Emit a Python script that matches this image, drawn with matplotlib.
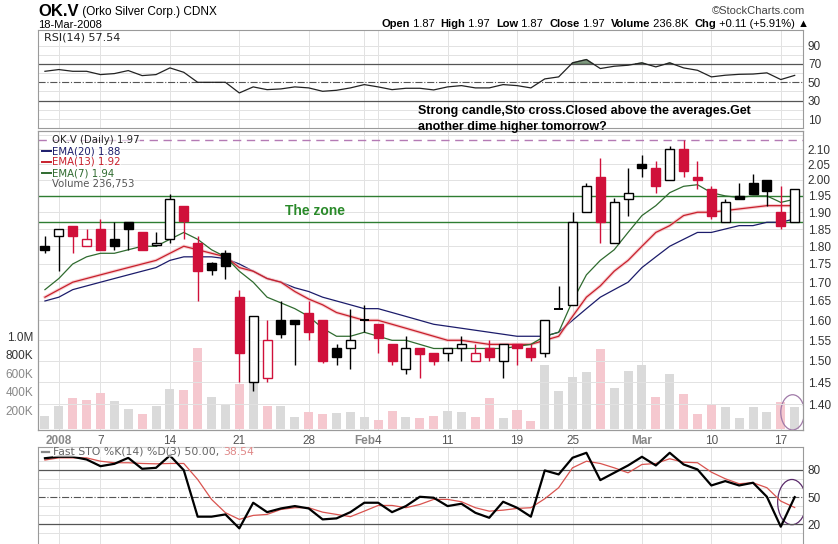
import matplotlib
matplotlib.use("Agg")
import matplotlib.pyplot as plt
from matplotlib.patches import Ellipse
from matplotlib.ticker import NullLocator, NullFormatter, FixedLocator

# ---- data (OK.V daily, 31-Dec-2007 .. 18-Mar-2008) ----
opens = [1.80, 1.83, 1.86, 1.80, 1.85, 1.82, 1.87, 1.84, 1.805, 1.82, 1.92, 1.81, 1.752, 1.78,
         1.66, 1.45, 1.46, 1.60, 1.60, 1.62, 1.60, 1.53, 1.53, 1.60, 1.59, 1.54, 1.48, 1.53,
         1.52, 1.52, 1.53, 1.50, 1.53, 1.50, 1.54, 1.53, 1.52, 1.63, 1.64, 1.90, 2.01, 1.81,
         1.94, 2.05, 2.04, 2.00, 2.10, 2.01, 1.97, 1.87, 1.95, 1.99, 2.00, 1.90, 1.87]
highs = [1.83, 1.85, 1.86, 1.85, 1.88, 1.87, 1.87, 1.84, 1.84, 1.955, 1.92, 1.83, 1.755, 1.79,
         1.68, 1.61, 1.60, 1.65, 1.60, 1.65, 1.60, 1.54, 1.63, 1.64, 1.59, 1.54, 1.56, 1.53,
         1.52, 1.53, 1.56, 1.54, 1.55, 1.54, 1.54, 1.54, 1.60, 1.69, 1.90, 1.99, 2.07, 1.945,
         2.04, 2.08, 2.06, 2.11, 2.13, 2.06, 1.98, 1.94, 1.99, 2.02, 2.00, 1.98, 1.97]
lows = [1.78, 1.73, 1.78, 1.80, 1.79, 1.79, 1.79, 1.79, 1.80, 1.81, 1.82, 1.65, 1.72, 1.71,
        1.45, 1.43, 1.45, 1.555, 1.49, 1.55, 1.495, 1.49, 1.48, 1.57, 1.52, 1.49, 1.47, 1.46,
        1.49, 1.50, 1.50, 1.50, 1.50, 1.46, 1.49, 1.50, 1.51, 1.63, 1.64, 1.90, 1.81, 1.81,
        1.89, 2.01, 1.96, 2.00, 2.01, 1.97, 1.88, 1.87, 1.94, 1.955, 1.92, 1.85, 1.87]
closes = [1.79, 1.85, 1.83, 1.82, 1.79, 1.80, 1.85, 1.79, 1.81, 1.94, 1.875, 1.73, 1.733, 1.745,
          1.52, 1.61, 1.55, 1.565, 1.59, 1.57, 1.50, 1.51, 1.55, 1.60, 1.555, 1.50, 1.53, 1.517,
          1.50, 1.53, 1.54, 1.52, 1.51, 1.54, 1.53, 1.51, 1.60, 1.63, 1.87, 1.98, 1.87, 1.93,
          1.96, 2.04, 1.98, 2.10, 2.03, 2.00, 1.89, 1.93, 1.94, 1.955, 1.965, 1.86, 1.97]
volume_k = [140, 249, 332, 313, 386, 303, 216, 159, 249, 429, 421, 872, 343, 259, 486, 764,
            249, 250, 133, 180, 162, 169, 180, 126, 97, 195, 126, 115, 140, 195, 180, 133,
            332, 115, 205, 86, 692, 411, 559, 616, 862, 440, 627, 692, 349, 591, 375, 159,
            267, 235, 115, 235, 180, 289, 237]
ema20 = [1.65, 1.66, 1.68, 1.69, 1.70, 1.71, 1.72, 1.73, 1.74, 1.76, 1.77, 1.77, 1.77, 1.765,
         1.75, 1.73, 1.71, 1.70, 1.685, 1.675, 1.66, 1.65, 1.64, 1.63, 1.63, 1.62, 1.61, 1.60,
         1.59, 1.585, 1.58, 1.575, 1.57, 1.565, 1.56, 1.56, 1.56, 1.57, 1.60, 1.63, 1.66, 1.68,
         1.70, 1.74, 1.77, 1.80, 1.82, 1.84, 1.84, 1.85, 1.86, 1.86, 1.87, 1.87, 1.88]
ema13 = [1.66, 1.68, 1.70, 1.71, 1.72, 1.73, 1.74, 1.75, 1.76, 1.78, 1.80, 1.79, 1.78, 1.77,
         1.74, 1.73, 1.71, 1.70, 1.675, 1.655, 1.64, 1.62, 1.61, 1.60, 1.60, 1.59, 1.58, 1.57,
         1.56, 1.55, 1.55, 1.545, 1.54, 1.54, 1.54, 1.54, 1.55, 1.56, 1.61, 1.66, 1.69, 1.73,
         1.76, 1.80, 1.84, 1.86, 1.89, 1.90, 1.90, 1.905, 1.91, 1.915, 1.92, 1.92, 1.92]
ema7 = [1.68, 1.71, 1.75, 1.77, 1.78, 1.78, 1.79, 1.80, 1.80, 1.82, 1.84, 1.82, 1.79, 1.77,
        1.73, 1.70, 1.66, 1.645, 1.63, 1.61, 1.58, 1.56, 1.56, 1.57, 1.56, 1.55, 1.55, 1.54,
        1.53, 1.53, 1.53, 1.53, 1.53, 1.53, 1.535, 1.54, 1.56, 1.57, 1.65, 1.72, 1.76, 1.79,
        1.84, 1.89, 1.92, 1.96, 1.98, 1.985, 1.96, 1.95, 1.945, 1.95, 1.95, 1.93, 1.94]
rsi = [62, 63.9, 62, 62, 58.4, 59.5, 62.8, 57.3, 58.4, 65.7, 60.9, 50, 50, 50, 38.4, 45, 42,
       42.8, 45, 43.9, 40.2, 41.3, 43.9, 47.5, 45, 42, 43.5, 43.5, 41.7, 45, 46.4, 43.9, 43.9,
       47.5, 46.4, 43.9, 53.7, 55.9, 71.2, 74.8, 65, 67.5, 68.6, 71.2, 66.8, 71.2, 65.7, 63.1,
       55.9, 57.7, 58.7, 59, 60.3, 53, 57.54]
sto_k = [93, 94.6, 94.6, 91.6, 84.2, 86.8, 93.4, 81.3, 82.4, 96, 79.8, 28.4, 28.4, 30.9, 15.5,
         43.8, 33.4, 37.5, 40.1, 37.5, 25.4, 26.5, 33.4, 43.8, 43.8, 33.4, 40.1, 50.4, 49.3,
         40.1, 42.7, 32.7, 27.2, 44.9, 38.3, 28.4, 79.5, 75.1, 93.5, 99, 68.8, 76.9, 85, 94.6,
         85, 99, 86.1, 80.6, 62.9, 67.7, 62.9, 65.9, 50.4, 17.3, 50.0]
sto_d = [91, 93.4, 93.4, 93.4, 89.7, 88, 88, 87.2, 86.8, 87.2, 87.2, 69.5, 47.5, 32.8, 25.4,
         29.8, 30.9, 36.4, 38.3, 38.3, 33.4, 30.9, 28.4, 34.5, 40.8, 40.8, 38.3, 41.9, 47.5,
         47.5, 44.9, 38.3, 34.5, 35.6, 37.5, 38.3, 48.2, 60.4, 82.4, 89.7, 87.2, 82.4, 76.9,
         86.1, 87.2, 92.4, 88.6, 88, 77.6, 70.3, 64.8, 65.9, 60.4, 45.6, 38.54]
tick_pos = [1, 4, 9, 14, 19, 23, 24, 29, 34, 38, 43, 48, 53]
tick_lab = ['2008', '7', '14', '21', '28', 'Feb', '4', '11', '19', '25', 'Mar', '10', '17']
price_ticks = [1.40, 1.45, 1.50, 1.55, 1.60, 1.65, 1.70, 1.75, 1.80, 1.85, 1.90, 1.95, 2.00,
               2.05, 2.10, 2.15]
zone = [1.87, 1.95]
top_line = 2.13

W, H = 838, 544
RED = '#d0103a'
GRID = '#e2e2e2'
n = len(closes)
x = list(range(n))

plt.rcParams['font.family'] = ['Liberation Sans', 'DejaVu Sans']
fig = plt.figure(figsize=(W / 100, H / 100), dpi=100)
rend = fig.canvas.get_renderer()


def box(x0, y0, x1, y1):
    return [x0 / W, 1 - y1 / H, (x1 - x0) / W, (y1 - y0) / H]


def run_text(x0, y0, parts, **kw):
    # write pieces of text one after the other on one line (pixel coords)
    xp = x0 / W
    for txt, extra in parts:
        opts = dict(kw)
        opts.update(extra)
        t = fig.text(xp, 1 - y0 / H, txt, va='center', **opts)
        xp += t.get_window_extent(rend).width / W


ax_r = fig.add_axes(box(38, 30, 803, 128))
ax_v = fig.add_axes(box(38, 131, 803, 430))
ax = ax_v.twinx()
ax_s = fig.add_axes(box(38, 447, 803, 544))

for a in (ax_r, ax_v, ax, ax_s):
    a.set_xlim(-0.5, 54.6)
    for s in a.spines.values():
        s.set_color('#9a9a9a')
        s.set_linewidth(0.8)
    a.tick_params(length=0, labelsize=8.5, colors='#333333')

# ---- RSI panel ----
ax_r.set_ylim(0.2, 107)
for lv in (10, 20, 40, 60, 80, 90):
    ax_r.axhline(lv, color=GRID, lw=0.7, zorder=0)
for p in tick_pos:
    ax_r.axvline(p, color=GRID, lw=0.7, zorder=0)
ax_r.axhline(70, color='#555555', lw=0.9)
ax_r.axhline(30, color='#555555', lw=0.9)
ax_r.axhline(50, color='#555555', lw=0.8, ls='-.')
ax_r.plot(x, rsi, color='#222222', lw=0.9)
ax_r.fill_between(x, 70, rsi, where=[v > 70 for v in rsi], interpolate=True,
                  color='#5f7f5f', alpha=0.8)
ax_r.yaxis.tick_right()
ax_r.set_yticks([10, 30, 50, 70, 90])
ax_r.set_xticks([])
ax_r.text(0.008, 0.97, 'RSI(14) 57.54', transform=ax_r.transAxes, va='top',
          fontsize=8, family='DejaVu Sans', color='#222222')

# ---- volume (behind) ----
vol = [v * 1000 for v in volume_k]
vcol = ['#dadada'] + ['#dadada' if closes[i] >= closes[i - 1] else '#f5c8cf'
                      for i in range(1, n)]
ax_v.bar(x, vol, width=0.65, color=vcol, zorder=2)
ax_v.set_ylim(-11e3, 3.22e6)
ax_v.set_yticks([200e3, 400e3, 600e3, 800e3, 1e6])
ax_v.set_yticklabels(['200K', '400K', '600K', '800K', '1.0M'])
for lbl, c in zip(ax_v.get_yticklabels(), ['#888888'] * 3 + ['#333333'] * 2):
    lbl.set_color(c)
for p in tick_pos:
    ax_v.axvline(p, color=GRID, lw=0.7, zorder=0)
ax_v.set_xticks(tick_pos)
ax_v.set_xticklabels(tick_lab)
for lbl in ax_v.get_xticklabels():
    if lbl.get_text() in ('2008', 'Feb', 'Mar'):
        lbl.set_fontweight('bold')
        lbl.set_color('#888888')
    else:
        lbl.set_color('#555555')
ax_v.add_patch(Ellipse((53.85, 180e3), 1.7, 380e3, fill=False, ec='#a07aa8', lw=0.9,
                       zorder=5))

# ---- price panel ----
ax.set_zorder(ax_v.get_zorder() + 1)
ax.patch.set_visible(False)
ax.set_yscale('log')
ax.set_ylim(1.344, 2.162)
ax.yaxis.set_major_locator(FixedLocator(price_ticks[:-1]))
ax.yaxis.set_minor_locator(NullLocator())
ax.yaxis.set_minor_formatter(NullFormatter())
ax.set_yticklabels(['%.2f' % p for p in price_ticks[:-1]])
for pt in price_ticks:
    ax.axhline(pt, color=GRID, lw=0.7, zorder=0)
for z in zone:
    ax.axhline(z, color='#2e7d32', lw=1.0, zorder=1)
ax.axhline(top_line, color='#b47ab4', lw=1.0, ls=(0, (6, 4)), zorder=1)

ax.plot(x, ema20, color='#1c1c6b', lw=0.9, zorder=3)
ax.plot(x, ema13, color='#f3b0b5', lw=2.4, zorder=3, alpha=0.6)
ax.plot(x, ema13, color='#c8202c', lw=0.9, zorder=3)
ax.plot(x, ema7, color='#2f6b2f', lw=0.9, zorder=3)

for i in range(n):
    o, h, l, c = opens[i], highs[i], lows[i], closes[i]
    col = 'black' if (i == 0 or c >= closes[i - 1]) else RED
    ax.vlines(i, l, h, color=col, lw=1.0, zorder=4)
    if abs(c - o) < 1e-9:
        ax.hlines(c, i - 0.33, i + 0.33, color=col, lw=1.4, zorder=5)
        continue
    fc = 'white' if c > o else col
    ax.bar(i, abs(c - o), bottom=min(o, c), width=0.65, color=fc, edgecolor=col,
           lw=1.0, zorder=5)

ax.text(17.3, 1.905, 'The zone', color='#2a8a2a', fontsize=10, fontweight='bold',
        va='center', zorder=6)

leg = [('OK.V (Daily) 1.97', '#222222'), ('EMA(20) 1.88', '#1c1c6b'),
       ('EMA(13) 1.92', '#c8202c'), ('EMA(7) 1.94', '#2f6b2f'),
       ('Volume 236,753', '#555555')]
for k, (t, c) in enumerate(leg):
    fig.text(52 / W, 1 - (140 + 11 * k) / H, t, color=c, fontsize=7.3,
             family='DejaVu Sans', va='center',
             bbox=dict(fc='white', ec='none', alpha=0.6, pad=0.3))
    if 0 < k < 4:
        fig.add_artist(plt.Line2D([42 / W, 51 / W], [1 - (140 + 11 * k) / H] * 2,
                                  color=c, lw=1.4))

# ---- stochastics ----
ax_s.set_ylim(-1.8, 105.4)
for p in tick_pos:
    ax_s.axvline(p, color=GRID, lw=0.7, zorder=0)
for lv in (10, 30, 40, 60, 70, 90):
    ax_s.axhline(lv, color=GRID, lw=0.7, zorder=0)
ax_s.axhline(80, color='#555555', lw=0.9)
ax_s.axhline(20, color='#555555', lw=0.9)
ax_s.axhline(50, color='#555555', lw=0.8, ls='-.')
ax_s.plot(x, sto_d, color='#d9534f', lw=0.9)
ax_s.plot(x, sto_k, color='black', lw=1.6)
ax_s.yaxis.tick_right()
ax_s.set_yticks([20, 50, 80])
ax_s.set_xticks([])
ax_s.spines['bottom'].set_visible(False)
ax_s.add_patch(Ellipse((53.8, 44.5), 2.05, 50, fill=False, ec='#5a2a6a', lw=0.9))
fig.add_artist(plt.Line2D([42 / W, 49 / W], [1 - 452 / H] * 2, color='#888888', lw=1.6))
run_text(53, 452, [('Fast STO %K(14) %D(3) 50.00, ', {'color': '#666666'}),
                   ('38.54', {'color': '#e08888'})],
         fontsize=7.8, family='DejaVu Sans',
         bbox=dict(fc='white', ec='none', alpha=0.55, pad=0.2))

# ---- header & notes ----
run_text(38, 12, [('OK.V', {'fontsize': 12, 'fontweight': 'bold'}),
                  (' (Orko Silver Corp.) CDNX', {'fontsize': 8.5})])
fig.text(38 / W, 1 - 25 / H, '18-Mar-2008', fontsize=8, va='center')
fig.text(805 / W, 1 - 11 / H, '\u00a9StockCharts.com', fontsize=8, va='center', ha='right',
         color='#444444')
hdr = []
for b, v in [('Open', ' 1.87  '), ('High', ' 1.97  '), ('Low', ' 1.87  '),
             ('Close', ' 1.97  '), ('Volume', ' 236.8K  '), ('Chg', ' +0.11 (+5.91%) \u25b2')]:
    hdr += [(b, {'fontweight': 'bold'}), (v, {})]
run_text(381, 24, hdr, fontsize=8)

fig.text(418 / W, 1 - 111 / H, 'Strong candle,Sto cross.Closed above the averages.Get',
         fontsize=9, fontweight='bold', va='center')
fig.text(418 / W, 1 - 127 / H, 'another dime higher tomorrow?', fontsize=9,
         fontweight='bold', va='center')

fig.savefig('out.png', dpi=100)
